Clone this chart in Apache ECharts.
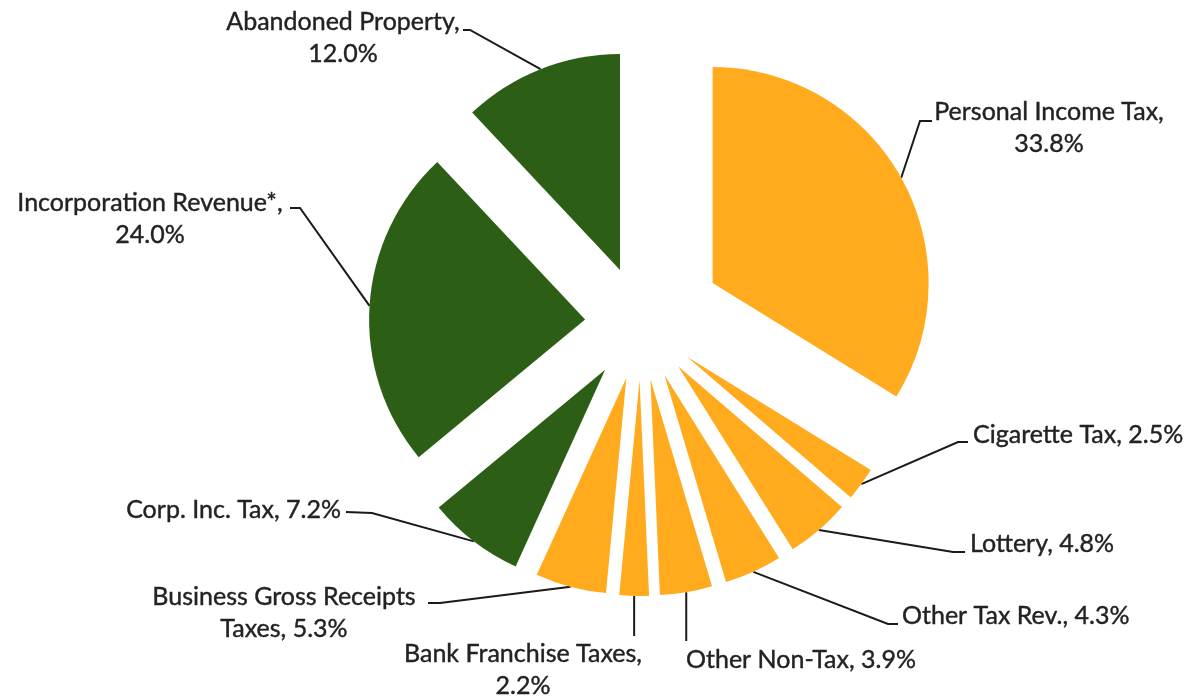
<!DOCTYPE html>
<html>
<head>
<meta charset="utf-8">
<script src="https://cdn.jsdelivr.net/npm/echarts@6/dist/echarts.min.js"></script>
<style>
    html, body { margin: 0; padding: 0; background: #fff; }
    #chart { width: 1188px; height: 698px; }
</style>
</head>
<body>
<div id="chart"></div>
<script>
// shares of revenue (%), clockwise from 12 o'clock
var categories = ['Personal Income Tax', 'Cigarette Tax', 'Lottery', 'Other Tax Rev.', 'Other Non-Tax',
    'Bank Franchise Taxes', 'Business Gross Receipts Taxes', 'Corp. Inc. Tax', 'Incorporation Revenue*', 'Abandoned Property'];
var shares = [33.8, 2.5, 4.8, 4.3, 3.9, 2.2, 5.3, 7.2, 24.0, 12.0];

var ORANGE = '#FFAB1D';
var GREEN = '#2D5E16';
var sliceColors = [ORANGE, ORANGE, ORANGE, ORANGE, ORANGE, ORANGE, ORANGE, GREEN, GREEN, GREEN];

// pie geometry + how far each slice is pulled out
var pieCenter = [641, 323];
var pieRadius = 216;
var explode = [82, 57, 57, 57, 57, 57, 57, 59, 56, 57];

// where each label sits and where its leader line bends / ends
var labelSpots = [
    { x: 1049, y: 128, align: 'center', lines: 'split', elbow: [920, 121], end: [932, 121] },
    { x: 973, y: 435, align: 'left', lines: 'one', elbow: [958, 442], end: [968, 442] },
    { x: 970, y: 544, align: 'left', lines: 'one', elbow: [953, 552], end: [965, 552] },
    { x: 902, y: 616, align: 'left', lines: 'one', elbow: [888, 624], end: [898, 624] },
    { x: 686, y: 660, align: 'left', lines: 'one', elbow: null, end: [0, 641] },
    { x: 523, y: 670, align: 'center', lines: 'split', elbow: null, end: [0, 636] },
    { x: 284, y: 613, align: 'center', lines: 'wrap', elbow: [440, 603], end: [428, 603] },
    { x: 341, y: 510, align: 'right', lines: 'one', elbow: [372, 513], end: [346, 512] },
    { x: 150, y: 219, align: 'center', lines: 'split', elbow: [300, 208], end: [290, 208] },
    { x: 343, y: 38, align: 'center', lines: 'split', elbow: [470, 30], end: [463, 30] }
];

function labelText(i) {
    var name = categories[i];
    var val = shares[i].toFixed(1) + '%';
    var mode = labelSpots[i].lines;
    if (mode === 'split') return name + ',\n' + val;
    if (mode === 'wrap') {
        var cut = name.lastIndexOf(' ');
        return name.slice(0, cut) + '\n' + name.slice(cut + 1) + ', ' + val;
    }
    return name + ', ' + val;
}

var chart = echarts.init(document.getElementById('chart'));

var total = shares.reduce(function (a, b) { return a + b; }, 0);
var series = [];
var cum = 0;
shares.forEach(function (v, k) {
    // mid angle, clockwise from top
    var mid = (cum + v / 2) / total * Math.PI * 2;
    cum += v;
    var cx = pieCenter[0] + explode[k] * Math.sin(mid);
    var cy = pieCenter[1] - explode[k] * Math.cos(mid);
    var spot = labelSpots[k];
    series.push({
        type: 'pie',
        silent: true,
        animation: false,
        radius: pieRadius,
        center: [cx, cy],
        startAngle: 90,
        clockwise: true,
        avoidLabelOverlap: false,
        label: {
            show: false,
            position: 'outside',
            fontFamily: 'Lato',
            fontSize: 25,
            lineHeight: 32,
            color: '#222',
            textBorderColor: '#222',
            textBorderWidth: 0.4,
            formatter: function (p) { return labelText(p.dataIndex); }
        },
        labelLine: {
            show: false,
            smooth: false,
            lineStyle: { color: '#1a1a1a', width: 2 }
        },
        labelLayout: function (p) {
            if (p.dataIndex !== k) return {};
            var start = p.labelLinePoints[0];
            var pts = spot.elbow ? [start, spot.elbow, spot.end] : [start, [start[0], spot.end[1]]];
            return {
                x: spot.x,
                y: spot.y,
                align: spot.align,
                verticalAlign: 'middle',
                labelLinePoints: pts
            };
        },
        data: shares.map(function (val, i) {
            var on = i === k;
            return {
                name: categories[i],
                value: val,
                itemStyle: { color: sliceColors[i], opacity: on ? 1 : 0 },
                label: { show: on },
                labelLine: { show: on }
            };
        })
    });
});

chart.setOption({
    backgroundColor: '#fff',
    series: series
});
</script>
</body>
</html>
